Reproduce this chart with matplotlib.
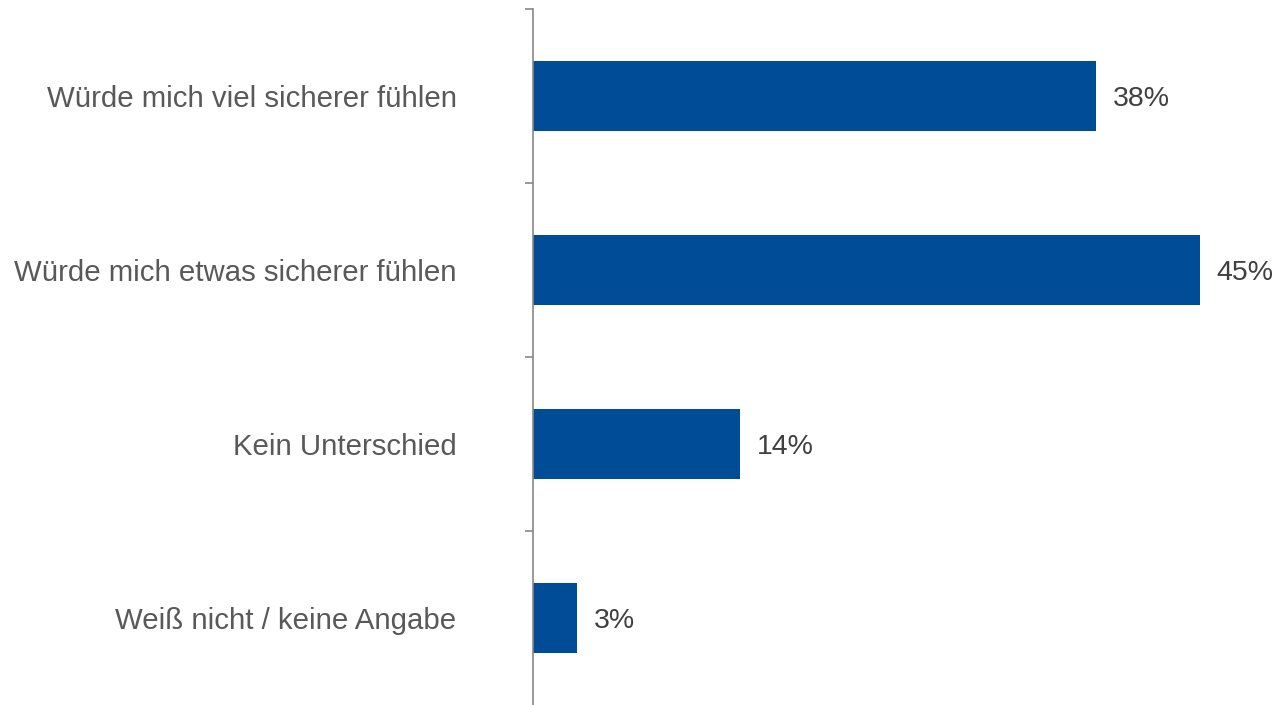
import numpy as np
import matplotlib.pyplot as plt

plt.rcParams['font.family'] = ['Liberation Sans', 'DejaVu Sans']

# Antworten und Anteile in Prozent
categories = ["Würde mich viel sicherer fühlen",
              "Würde mich etwas sicherer fühlen",
              "Kein Unterschied",
              "Weiß nicht / keine Angabe"]
values = [38, 45, 14, 3]

fig = plt.figure(figsize=(12.74, 7.05), dpi=100)
ax = fig.add_axes([533 / 1274, 0.0, 1 - 533 / 1274, 1 - 9 / 705])

y = np.arange(len(categories))
ax.barh(y, values, height=0.4, color="#004C97")

for yi, v in zip(y, values):
    ax.text(v + 1.1, yi, f"{v}%", va="center_baseline", ha="left", fontsize=20.5, color="#404040")

ax.set_xlim(0, 50)
ax.set_ylim(len(categories) - 0.5, -0.5)

# Ticks an den Kategoriegrenzen (ohne die unterste), Beschriftungen mittig
ax.set_yticks(np.arange(len(categories)) - 0.5)
ax.set_yticklabels([])
ax.set_yticks(y, minor=True)
ax.set_yticklabels(categories, minor=True, fontsize=21.2, color="#595959")
ax.tick_params(axis="y", which="major", length=6, color="#888888", width=1.2)
ax.tick_params(axis="y", which="minor", length=0, pad=55)
ax.set_xticks([])

for s in ["top", "right", "bottom"]:
    ax.spines[s].set_visible(False)
ax.spines["left"].set_color("#888888")
ax.spines["left"].set_linewidth(1.2)

fig.savefig("out.png", dpi=100)
